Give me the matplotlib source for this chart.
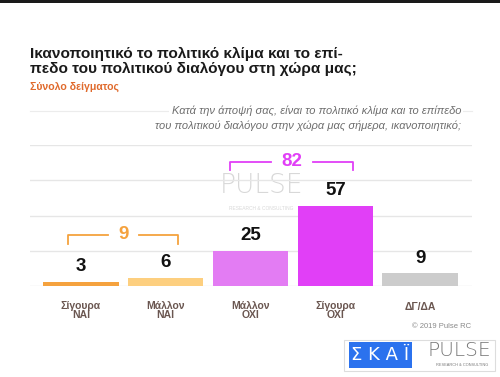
import matplotlib.pyplot as plt
import matplotlib.patches as patches

# --- data ---
categories = ["Σίγουρα\nΝΑΙ", "Μάλλον\nΝΑΙ", "Μάλλον\nΟΧΙ", "Σίγουρα\nΟΧΙ", "ΔΓ/ΔΑ"]
values = [3, 6, 25, 57, 9]
bar_colors = ["#f5a23e", "#fdcf7f", "#e37cf3", "#e13ff7", "#cccccc"]
group_yes = 9
group_no = 82

plt.rcParams['font.family'] = ['Liberation Sans', 'DejaVu Sans']

fig = plt.figure(figsize=(5, 3.77), dpi=100)
W, H = 500, 377

def fx(px):
    return px / W

def fy(py):
    return 1 - py / H

# top black strip
fig.add_artist(patches.Rectangle((0, fy(2.5)), 1, 2.5 / H, transform=fig.transFigure,
                                 color="#1a1a1a", lw=0))

# title and subtitle
fig.text(fx(30), fy(54), "Ικανοποιητικό το πολιτικό κλίμα και το επί-",
         fontsize=11.1, weight='bold', color="#1a1a1a", va='center')
fig.text(fx(30), fy(69), "πεδο του πολιτικού διαλόγου στη χώρα μας;",
         fontsize=11.1, weight='bold', color="#1a1a1a", va='center')
fig.text(fx(30), fy(87), "Σύνολο δείγματος", fontsize=7.6, weight='bold',
         color="#e06a2c", va='center')

# question line
fig.add_artist(plt.Line2D([fx(30), fx(472)], [fy(111), fy(111)], transform=fig.transFigure,
                          color="#ececec", lw=0.8))
fig.text(fx(461), fy(111), "Κατά την άποψή σας, είναι το πολιτικό κλίμα και το επίπεδο",
         fontsize=8.0, style='italic', color="#6e6e6e", ha='right', va='center',
         bbox=dict(fc='white', ec='none', pad=1.5))
fig.text(fx(461), fy(126), "του πολιτικού διαλόγου στην χώρα μας σήμερα, ικανοποιητικό;",
         fontsize=8.0, style='italic', color="#6e6e6e", ha='right', va='center')

# --- chart ---
ax = fig.add_axes([fx(30), fy(286), fx(442), 141 / H])
x = list(range(len(values)))
ax.bar(x, values, width=0.89, color=bar_colors, zorder=3)
ax.set_xlim(-0.6, 4.61)
ax.set_ylim(0, 100)
ax.set_yticks([0, 25, 50, 75, 100])
ax.yaxis.grid(True, color="#e6e6e6", lw=1, zorder=0)
ax.tick_params(left=False, bottom=False, labelleft=False, labelbottom=False)
for s in ax.spines.values():
    s.set_visible(False)

# watermark
ax.text(2.13, 71, "PULSE", fontsize=19, color="#d8d8d8", ha='center', va='center',
        zorder=1, family=['DejaVu Sans'], weight='light')
ax.text(2.13, 55, "RESEARCH & CONSULTING", fontsize=3.5, color="#d8d8d8",
        ha='center', va='center', zorder=1)

for xi, v in zip(x, values):
    ax.text(xi, v + 10.5, str(v), ha='center', va='center', fontsize=13.5,
            weight='bold', color="#111111", zorder=4)

# brackets
def bracket(x0, x1, y, label, color, gap):
    xm = (x0 + x1) / 2
    kw = dict(color=color, lw=1.3, clip_on=False, zorder=4)
    ax.plot([x0, x0, xm - gap], [y - 6, y, y], **kw)
    ax.plot([xm + gap, x1, x1], [y, y, y - 6], **kw)
    ax.text(xm, y + 0.5, label, ha='center', va='center', fontsize=13.5,
            weight='bold', color=color, clip_on=False)

bracket(-0.15, 1.15, 36, str(group_yes), "#f5a23e", 0.18)
bracket(1.76, 3.21, 88, str(group_no), "#e13ff7", 0.25)

# category labels
for xi, c in zip(x, categories):
    ax.text(xi, -17.5 if "\n" in c else -15, c, ha='center', va='center', fontsize=7.5,
            weight='bold', color="#6a5650", linespacing=0.9, clip_on=False)

fig.text(fx(471), fy(326), "© 2019 Pulse RC", fontsize=5.5, color="#8a8a8a",
         ha='right', va='center')

# logos
fig.add_artist(patches.Rectangle((fx(344), fy(371)), fx(151), 31 / H,
                                 transform=fig.transFigure, fc='white', ec="#dddddd", lw=0.8))
fig.add_artist(patches.Rectangle((fx(349), fy(368)), fx(63), 26 / H,
                                 transform=fig.transFigure, fc="#2b72ee", ec='none'))
fig.text(fx(380.5), fy(355), "Σ Κ Α Ϊ", fontsize=13, color='white', ha='center', va='center',
         family=['DejaVu Sans'])
fig.text(fx(459), fy(350), "PULSE", fontsize=14.5, color="#777777", ha='center', va='center',
         family=['DejaVu Sans'], weight='light')
fig.text(fx(462), fy(365), "RESEARCH & CONSULTING", fontsize=2.8, color="#777777",
         ha='center', va='center')

fig.savefig("out.png", dpi=100, facecolor='white')
